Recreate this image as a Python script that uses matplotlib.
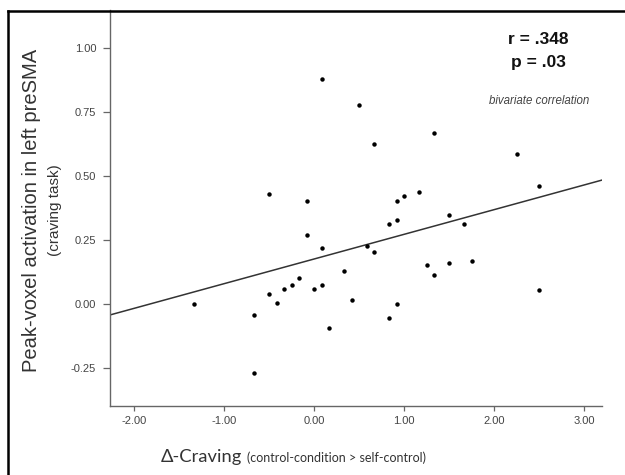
import numpy as np
import matplotlib
matplotlib.use('Agg')
import matplotlib.pyplot as plt
from matplotlib.lines import Line2D

# Delta-craving (control-condition > self-control) per participant
delta_craving = [-16/12, -8/12, -8/12, -6/12, -6/12, -5/12, -4/12, -3/12, -2/12,
                 -1/12, -1/12, 0.0, 1/12, 1/12, 1/12, 2/12, 4/12, 5/12, 6/12,
                 7/12, 8/12, 8/12, 10/12, 10/12, 11/12, 11/12, 11/12, 1.0, 14/12,
                 15/12, 16/12, 16/12, 1.5, 1.5, 20/12, 21/12, 27/12, 2.5, 2.5]
# peak-voxel activation in left preSMA (craving task)
presma_peak = [0.000, -0.043, -0.273, 0.430, 0.036, 0.002, 0.056, 0.071, 0.099,
               0.401, 0.268, 0.057, 0.073, 0.218, 0.876, -0.095, 0.127, 0.016, 0.777,
               0.224, 0.203, 0.622, -0.056, 0.311, -0.002, 0.401, 0.325, 0.420, 0.435,
               0.152, 0.110, 0.668, 0.159, 0.346, 0.312, 0.166, 0.583, 0.461, 0.055]

r_text = 'r = .348'
p_text = 'p = .03'

x_ticks = [-2, -1, 0, 1, 2, 3]
y_ticks = [-0.25, 0.0, 0.25, 0.5, 0.75, 1.0]
xlim = (-2.27, 3.2)
ylim = (-0.40, 1.147)

W, H = 625, 475
fig = plt.figure(figsize=(W / 100, H / 100), dpi=100)
ax = fig.add_axes([110 / W, 1 - 406 / H, 492 / W, 396 / H])


def fpos(px, py):
    # pixel position (from top-left) -> figure fraction
    return px / W, 1 - py / H


x = np.array(delta_craving)
y = np.array(presma_peak)
ax.plot(x, y, 'o', color='black', markersize=3.2, markeredgewidth=0, zorder=3)

# least-squares fit across the full x range
slope, icpt = np.polyfit(x, y, 1)
xl = np.array(xlim)
ax.plot(xl, icpt + slope * xl, color='#333333', linewidth=1.1, zorder=2)

ax.set_xlim(*xlim)
ax.set_ylim(*ylim)
ax.set_xticks(x_ticks)
ax.set_xticklabels([f'{v:.2f}' for v in x_ticks])
ax.set_yticks(y_ticks)
ax.set_yticklabels([f'{v:.2f}' for v in y_ticks])
for lab in ax.get_xticklabels() + ax.get_yticklabels():
    lab.set_family('Liberation Sans')
ax.tick_params(axis='both', colors='#666666', labelcolor='#444444',
               labelsize=8, width=0.9)
ax.tick_params(axis='x', length=3.5, pad=3.5)
ax.tick_params(axis='y', length=5, pad=5)
for side in ('top', 'right'):
    ax.spines[side].set_visible(False)
for side in ('left', 'bottom'):
    ax.spines[side].set_color('#666666')
    ax.spines[side].set_linewidth(1.0)

# stats annotation
fig.text(*fpos(538, 40), r_text, fontsize=12.5, fontweight='bold',
         family='Liberation Sans', color='#111111', ha='center', va='center')
fig.text(*fpos(538, 62), p_text, fontsize=12.5, fontweight='bold',
         family='Liberation Sans', color='#111111', ha='center', va='center')
fig.text(*fpos(539, 101), 'bivariate correlation', fontsize=8.3,
         style='italic', family='Liberation Sans', color='#444444',
         ha='center', va='center')

# y-axis label in two sizes
fig.text(*fpos(32, 210), 'Peak-voxel activation in left preSMA',
         rotation=90, fontsize=14.5, family='Liberation Sans', color='#333333',
         ha='center', va='center')
fig.text(*fpos(55, 210), '(craving task)', rotation=90, fontsize=11,
         family='Liberation Sans', color='#333333', ha='center', va='center')

# x-axis label in two sizes
fig.text(*fpos(242, 462), 'Δ-Craving', fontsize=13.2, family='Lato',
         color='#333333', ha='right', va='baseline')
fig.text(*fpos(247, 462), '(control-condition > self-control)',
         fontsize=9, family='Lato', color='#333333', ha='left', va='baseline')

# outer frame (left and top edges)
fig.add_artist(Line2D([8 / W, 8 / W], [0, 1 - 10.5 / H], transform=fig.transFigure,
                      color='black', linewidth=1.8))
fig.add_artist(Line2D([8 / W, 1], [1 - 10.5 / H, 1 - 10.5 / H],
                      transform=fig.transFigure, color='black', linewidth=1.8))

fig.savefig('out.png', dpi=100)
